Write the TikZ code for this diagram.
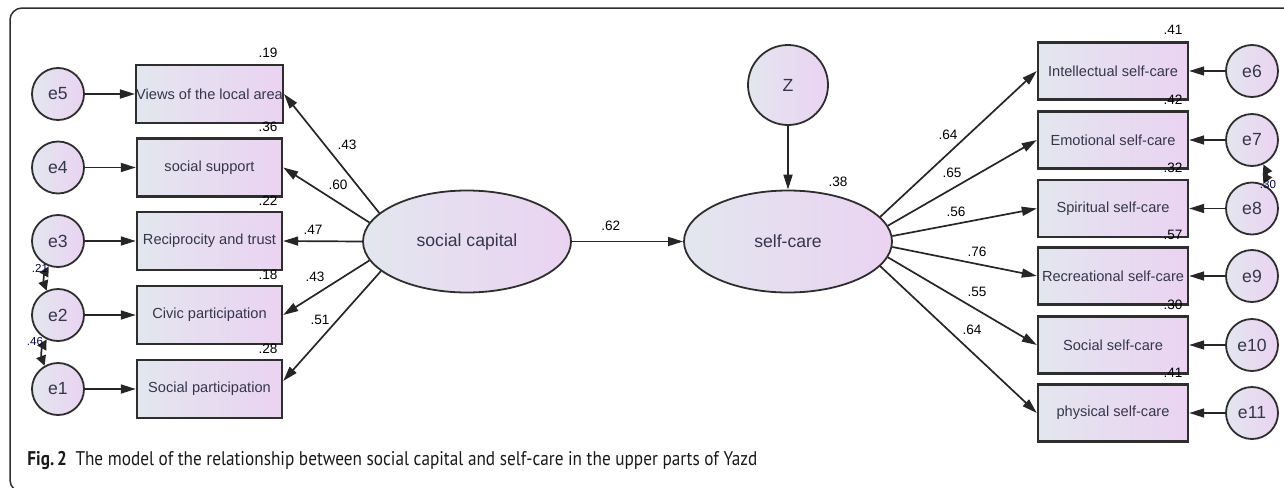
\documentclass[tikz,border=0pt]{standalone}
\usepackage{fontspec}
\setmainfont{Liberation Sans}
\newfontfamily\capfont{PT Sans}
\usetikzlibrary{arrows.meta,shapes.geometric,calc}
\definecolor{fillL}{HTML}{E3E6EF}
\definecolor{fillR}{HTML}{EAD3F1}
\definecolor{edge}{HTML}{2E2E2E}
\definecolor{txt}{HTML}{36364A}
\tikzset{
  shadebase/.style={left color=fillL, right color=fillR, draw=edge, text=txt, inner sep=0pt},
  obsbox/.style={shadebase, rectangle, line width=1.2pt, minimum width=72.5pt, minimum height=29pt, font=\fontsize{7.3}{8}\selectfont},
  errc/.style={shadebase, circle, line width=0.9pt, minimum size=26pt, font=\fontsize{8.8}{9}\selectfont},
  latent/.style={shadebase, ellipse, line width=0.9pt, minimum width=104pt, minimum height=51pt, font=\fontsize{8.8}{9}\selectfont},
  num/.style={font=\fontsize{6.8}{7}\selectfont, inner sep=0pt},
  path arrow/.style={line width=0.85pt, draw=black!85, -{Triangle[length=7.5pt,width=4.5pt]}},
  cov/.style={line width=0.85pt, draw=black!85, {Triangle[length=5pt,width=5pt]}-{Triangle[length=5pt,width=5pt]}},
  covnum/.style={font=\fontsize{5.8}{6}\selectfont, inner sep=0pt, text=black!70!blue}
}
\begin{document}
\begin{tikzpicture}[x=0.5pt,y=-0.5pt]
\useasboundingbox (0,0) rectangle (1284,487);
\begin{scope}
\clip (0,0) rectangle (1284,487);
\draw[line width=0.75pt, draw=edge, rounded corners=6pt] (1300,8) -- (10,8) -- (10,492) -- (1300,492);
\end{scope}

% left side observed variables
\node[obsbox] (v1) at (209.5,94) {Views of the local area};
\node[obsbox] (v2) at (209.5,167.5) {social support};
\node[obsbox] (v3) at (209.5,241) {Reciprocity and trust};
\node[obsbox] (v4) at (209.5,315) {Civic participation};
\node[obsbox] (v5) at (209.5,389) {Social participation};

\node[errc] (e5) at (58,94) {e5};
\node[errc] (e4) at (58,167.5) {e4};
\node[errc] (e3) at (58,241) {e3};
\node[errc] (e2) at (58,315) {e2};
\node[errc] (e1) at (58,389) {e1};

\foreach \e/\v in {e5/v1,e4/v2,e3/v3,e2/v4,e1/v5} \draw[path arrow] (\e) -- (\v);

\node[num] (r1) at (268,53) {.19};
\node[num] (r2) at (268,127) {.36};
\node[num] (r3) at (268,201) {.22};
\node[num] (r4) at (268,275) {.18};
\node[num] (r5) at (268,349) {.28};

% latent variables
\node[latent] (sc) at (467,241.5) {social capital};
\node[latent] (sf) at (788,241.5) {self-care};
\node[errc, minimum size=40pt] (z) at (788,85) {Z};

\draw[path arrow] (sc) -- node[num, above=5pt, pos=0.35] (l62) {.62} (sf);
\draw[path arrow] (z) -- (sf);
\node[num] (r38) at (838,182) {.38};

% loadings social capital
\draw[path arrow] (sc.162) -- (v1.east);
\draw[path arrow] (sc.169.5) -- (v2.east);
\draw[path arrow] (sc.180) -- (v3.east);
\draw[path arrow] (sc.191) -- (v4.east);
\draw[path arrow] (sc.199.5) -- ([yshift=4pt]v5.east);
\node[num] (l1) at (347,145) {.43};
\node[num] (l2) at (338,185) {.60};
\node[num] (l3) at (313,230) {.47};
\node[num] (l4) at (315,277) {.43};
\node[num] (l5) at (320,320) {.51};

% right side observed variables
\node[obsbox, minimum width=75pt, minimum height=28.5pt] (w1) at (1113,71) {Intellectual self-care};
\node[obsbox, minimum width=75pt, minimum height=28.5pt] (w2) at (1113,140) {Emotional self-care};
\node[obsbox, minimum width=75pt, minimum height=28.5pt] (w3) at (1113,208.5) {Spiritual self-care};
\node[obsbox, minimum width=75pt, minimum height=28.5pt] (w4) at (1113,276) {Recreational self-care};
\node[obsbox, minimum width=75pt, minimum height=28.5pt] (w5) at (1113,345) {Social self-care};
\node[obsbox, minimum width=75pt, minimum height=28.5pt] (w6) at (1113,413) {physical self-care};

\node[errc] (e6) at (1252,71) {e6};
\node[errc] (e7) at (1252,140) {e7};
\node[errc] (e8) at (1252,208.5) {e8};
\node[errc] (e9) at (1252,276) {e9};
\node[errc] (e10) at (1252,345) {e10};
\node[errc] (e11) at (1252,413) {e11};

\foreach \e/\w in {e6/w1,e7/w2,e8/w3,e9/w4,e10/w5,e11/w6} \draw[path arrow] (\e) -- (\w);

\node[num] (s1) at (1173,30) {.41};
\node[num] (s2) at (1173,100) {.42};
\node[num] (s3) at (1173,168) {.32};
\node[num] (s4) at (1173,235) {.57};
\node[num] (s5) at (1173,305) {.30};
\node[num] (s6) at (1173,373) {.41};

% loadings self-care
\draw[path arrow] (sf.15) -- (w1.west);
\draw[path arrow] (sf.9.5) -- (w2.west);
\draw[path arrow] (sf.3.8) -- (w3.west);
\draw[path arrow] (sf.-3.3) -- (w4.west);
\draw[path arrow] (sf.-9) -- (w5.west);
\draw[path arrow] (sf.-15) -- (w6.west);
\node[num] (m1) at (948,135) {.64};
\node[num] (m2) at (952,173) {.65};
\node[num] (m3) at (956,212) {.56};
\node[num] (m4) at (977,252) {.76};
\node[num] (m5) at (977,292) {.55};
\node[num] (m6) at (972,330) {.64};

% covariances
\draw[cov] (e3.250) to[bend right=25] (e2.115);
\draw[cov] (e2.245) to[bend right=25] (e1.120);
\draw[cov] (e7.295) to[bend left=25] (e8.65);
\node[covnum] (c1) at (40,268) {.21};
\node[covnum] (c2) at (35,342) {.46};
\node[covnum] (c3) at (1268,185) {.30};

% caption
\node[anchor=west, inner sep=0pt, text=black!90] (cap) at (27,461)
  {\scalebox{1}[1.15]{\resizebox{365pt}{!}{\capfont\textbf{Fig.\,2}\enspace The model of the relationship between social capital and self-care in the upper parts of Yazd}}};
\end{tikzpicture}
\end{document}
